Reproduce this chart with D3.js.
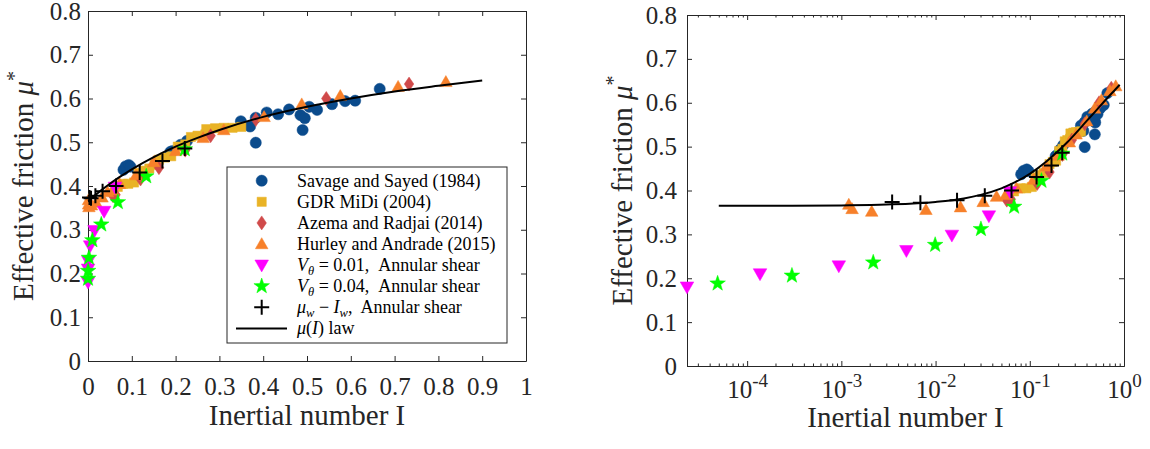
<!DOCTYPE html>
<html>
<head>
<meta charset="utf-8">
<script src="https://cdn.jsdelivr.net/npm/d3@7"></script>
<style>
  body { margin: 0; background: #fff; }
  svg { display: block; }
  text { white-space: pre; }
</style>
</head>
<body>
<svg id="chart" width="1150" height="449"></svg>
<script>
// mu(I) law curve
const lawI = [5e-5, 1e-4, 3e-4, 1e-3, 3e-3, 0.01, 0.02, 0.03, 0.05, 0.07, 0.1, 0.15, 0.2, 0.25, 0.3, 0.4, 0.5, 0.6, 0.7, 0.8, 0.9];
const lawMu = [0.365, 0.365, 0.365, 0.366, 0.368, 0.374, 0.382, 0.390, 0.405, 0.419, 0.438, 0.466, 0.490, 0.510, 0.528, 0.558, 0.581, 0.600, 0.616, 0.629, 0.641];

// Savage and Sayed (1984)
const savageI = [0.081, 0.086, 0.093, 0.097, 0.188, 0.193, 0.211, 0.226, 0.349, 0.37, 0.383, 0.383, 0.408, 0.434, 0.459, 0.485, 0.495, 0.49, 0.505, 0.523, 0.557, 0.587, 0.61, 0.666];
const savageMu = [0.437, 0.445, 0.448, 0.444, 0.478, 0.48, 0.494, 0.503, 0.548, 0.536, 0.499, 0.556, 0.568, 0.564, 0.575, 0.562, 0.555, 0.528, 0.581, 0.574, 0.587, 0.594, 0.595, 0.622];

// GDR MiDi (2004)
const gdrI = [0.068, 0.08, 0.092, 0.105, 0.115, 0.128, 0.14, 0.152, 0.162, 0.175, 0.19, 0.205, 0.222, 0.235, 0.25, 0.268, 0.27, 0.29, 0.31, 0.33, 0.35];
const gdrMu = [0.398, 0.405, 0.405, 0.408, 0.43, 0.435, 0.44, 0.448, 0.46, 0.465, 0.468, 0.49, 0.495, 0.512, 0.515, 0.518, 0.53, 0.532, 0.533, 0.533, 0.535];

// Azema and Radjai (2014)
const azemaI = [0.057, 0.063, 0.12, 0.162, 0.222, 0.28, 0.383, 0.544, 0.733];
const azemaMu = [0.378, 0.38, 0.416, 0.442, 0.482, 0.515, 0.552, 0.6, 0.633];

// Hurley and Andrade (2015)
const hurleyI = [1.2e-3, 1.3e-3, 2.1e-3, 7.9e-3, 0.0184, 0.032, 0.0444, 0.0557, 0.072, 0.11, 0.15, 0.2, 0.263, 0.31, 0.402, 0.488, 0.576, 0.708, 0.817];
const hurleyMu = [0.368, 0.358, 0.352, 0.356, 0.362, 0.374, 0.386, 0.39, 0.405, 0.425, 0.455, 0.48, 0.51, 0.528, 0.558, 0.587, 0.606, 0.627, 0.638];

// V_theta = 0.01, annular shear
const v01I = [2.3e-5, 1.37e-4, 9.4e-4, 4.9e-3, 0.0149, 0.0368, 0.0615];
const v01Mu = [0.18, 0.21, 0.228, 0.263, 0.298, 0.342, 0.397];

// V_theta = 0.04, annular shear
const v04I = [4.86e-5, 2.99e-4, 2.18e-3, 9.9e-3, 0.0303, 0.0682, 0.133, 0.221];
const v04Mu = [0.188, 0.206, 0.236, 0.276, 0.312, 0.363, 0.422, 0.484];

// mu_w - I_w, annular shear
const wallI = [3.46e-3, 6.9e-3, 0.0169, 0.0333, 0.064, 0.118, 0.17, 0.221];
const wallMu = [0.374, 0.372, 0.378, 0.388, 0.4, 0.431, 0.457, 0.486];

// ticks
const muTicks = [0, 0.1, 0.2, 0.3, 0.4, 0.5, 0.6, 0.7, 0.8];
const muTickLabels = ["0", "0.1", "0.2", "0.3", "0.4", "0.5", "0.6", "0.7", "0.8"];
const linTicks = [0, 0.1, 0.2, 0.3, 0.4, 0.5, 0.6, 0.7, 0.8, 0.9, 1];
const linTickLabels = ["0", "0.1", "0.2", "0.3", "0.4", "0.5", "0.6", "0.7", "0.8", "0.9", "1"];
const logTicks = [1e-4, 1e-3, 1e-2, 1e-1, 1];
const logTickExp = ["-4", "-3", "-2", "-1", "0"];

const FONT = '"Liberation Serif", "Times New Roman", serif';
const AX = "#262626";

const svg = d3.select("#chart");

const xL = d3.scaleLinear().domain([0, 1]).range([88, 526]);
const yL = d3.scaleLinear().domain([0, 0.8]).range([361, 11]);
const xR = d3.scaleLog().domain([2.3e-5, 1]).range([687, 1124]);
const yR = d3.scaleLinear().domain([0, 0.8]).range([366, 15]);

// marker shapes, size = half width in px
const circleT = { draw(c, r) { c.moveTo(r, 0); c.arc(0, 0, r, 0, 2 * Math.PI); } };
const squareT = { draw(c, r) { c.rect(-r, -r, 2 * r, 2 * r); } };
const diamondT = { draw(c, r) {
	c.moveTo(0, -r * 1.25); c.lineTo(r * 0.85, 0); c.lineTo(0, r * 1.25); c.lineTo(-r * 0.85, 0); c.closePath();
} };
const triUpT = { draw(c, r) { c.moveTo(0, -r); c.lineTo(r, r * 0.75); c.lineTo(-r, r * 0.75); c.closePath(); } };
const triDownT = { draw(c, r) { c.moveTo(0, r); c.lineTo(r, -r * 0.75); c.lineTo(-r, -r * 0.75); c.closePath(); } };
const starT = { draw(c, r) {
	for (let k = 0; k < 10; k++) {
		const rad = k % 2 === 0 ? r : r * 0.4;
		const a = -Math.PI / 2 + k * Math.PI / 5;
		if (k === 0) c.moveTo(rad * Math.cos(a), rad * Math.sin(a));
		else c.lineTo(rad * Math.cos(a), rad * Math.sin(a));
	}
	c.closePath();
} };
const plusT = { draw(c, r) { c.moveTo(-r, 0); c.lineTo(r, 0); c.moveTo(0, -r); c.lineTo(0, r); } };

const series = [
	{ I: savageI, mu: savageMu, type: circleT, size: 5.6, fill: "#0a4b8c", label: "Savage and Sayed (1984)" },
	{ I: gdrI, mu: gdrMu, type: squareT, size: 4.6, fill: "#e9b326", label: "GDR MiDi (2004)" },
	{ I: azemaI, mu: azemaMu, type: diamondT, size: 5.6, fill: "#d04a4a", label: "Azema and Radjai (2014)" },
	{ I: hurleyI, mu: hurleyMu, type: triUpT, size: 6.3, fill: "#f7802a", label: "Hurley and Andrade (2015)" },
	{ I: v01I, mu: v01Mu, type: triDownT, size: 6.8, fill: "#ff00ff", label: "v01" },
	{ I: v04I, mu: v04Mu, type: starT, size: 8.2, fill: "#00ff00", label: "v04" },
	{ I: wallI, mu: wallMu, type: plusT, size: 7.5, stroke: "#000", label: "wall" },
];

function drawFrame(x, y, opts) {
	const [x0, x1] = x.range();
	const [y0, y1] = y.range();
	const g = svg.append("g").attr("font-family", FONT);

	const bottom = g.append("g")
		.attr("transform", `translate(0,${y0})`)
		.call(d3.axisBottom(x).tickValues(opts.xTicks).tickSizeInner(-5).tickSizeOuter(0)
			.tickFormat((d, i) => opts.xLabels ? opts.xLabels[i] : ""));
	bottom.selectAll("text").attr("y", opts.labelY).attr("dy", null);

	if (opts.xMinor) {
		g.append("g")
			.attr("transform", `translate(0,${y0})`)
			.call(d3.axisBottom(x).tickValues(opts.xMinor).tickSizeInner(-2.5).tickSizeOuter(0).tickFormat(""));
		g.append("g")
			.attr("transform", `translate(0,${y1})`)
			.call(d3.axisTop(x).tickValues(opts.xMinor).tickSizeInner(-2.5).tickSizeOuter(0).tickFormat(""));
	}

	g.append("g")
		.attr("transform", `translate(0,${y1})`)
		.call(d3.axisTop(x).tickValues(opts.xTicks).tickSizeInner(-5).tickSizeOuter(0).tickFormat(""));

	g.append("g")
		.attr("transform", `translate(${x0},0)`)
		.call(d3.axisLeft(y).tickValues(muTicks).tickSizeInner(-5).tickSizeOuter(0).tickPadding(opts.yPad)
			.tickFormat((d, i) => muTickLabels[i]));

	g.append("g")
		.attr("transform", `translate(${x1},0)`)
		.call(d3.axisRight(y).tickValues(muTicks).tickSizeInner(-5).tickSizeOuter(0).tickFormat(""));

	g.selectAll("path.domain").attr("stroke", AX).attr("stroke-width", 1);
	g.selectAll(".tick line").attr("stroke", AX).attr("stroke-width", 1);
	g.selectAll("g").attr("font-family", FONT).attr("font-size", 25);
	g.selectAll("text").attr("fill", AX);
	return bottom;
}

function yTitle(cx, cy) {
	const t = svg.append("text")
		.attr("transform", `translate(${cx},${cy}) rotate(-90)`)
		.attr("text-anchor", "middle")
		.attr("font-family", FONT)
		.attr("font-size", 29)
		.attr("fill", AX);
	t.append("tspan").text("Effective friction ");
	t.append("tspan").attr("font-style", "italic").text("μ");
	t.append("tspan").attr("dy", -12).attr("font-size", 20).text("*");
}

function xTitle(cx, by) {
	svg.append("text")
		.attr("x", cx).attr("y", by)
		.attr("text-anchor", "middle")
		.attr("font-family", FONT)
		.attr("font-size", 29)
		.attr("fill", AX)
		.text("Inertial number I");
}

function drawData(x, y) {
	const g = svg.append("g");
	series.forEach((s) => {
		const sym = d3.symbol().type(s.type).size(s.size);
		g.append("g")
			.selectAll("path")
			.data(s.I.map((v, i) => [v, s.mu[i]]))
			.join("path")
			.attr("transform", (d) => `translate(${x(d[0])},${y(d[1])})`)
			.attr("d", sym)
			.attr("fill", s.fill || "none")
			.attr("stroke", s.stroke || s.fill)
			.attr("stroke-width", s.stroke ? 2 : 0.5);
	});
	const line = d3.line()
		.x((d) => x(d[0]))
		.y((d) => y(d[1]))
		.curve(d3.curveMonotoneX);
	g.append("path")
		.datum(lawI.map((v, i) => [v, lawMu[i]]))
		.attr("d", line)
		.attr("fill", "none")
		.attr("stroke", "#000")
		.attr("stroke-width", 2);
}

// ---------- left panel ----------
drawFrame(xL, yL, { xTicks: linTicks, xLabels: linTickLabels, labelY: 34, yPad: 7 });
drawData(xL, yL);
yTitle(33, 186);
xTitle(307, 425);

// ---------- right panel ----------
const minor = [];
for (let e = -5; e < 0; e++) {
	for (let m = 2; m <= 9; m++) {
		const v = m * Math.pow(10, e);
		if (v >= 2.3e-5 && v < 1) minor.push(v);
	}
}
const rb = drawFrame(xR, yR, { xTicks: logTicks, xLabels: logTickExp, xMinor: minor, labelY: 32, yPad: 10 });
rb.selectAll(".tick text").each(function (d, i) {
	const t = d3.select(this);
	t.text(null);
	t.append("tspan").text("10");
	t.append("tspan").attr("dy", -11).attr("font-size", 19).text(logTickExp[i]);
});
drawData(xR, yR);
yTitle(632, 190.5);
xTitle(905.5, 427);

// ---------- legend ----------
const lg = svg.append("g").attr("font-family", FONT).attr("font-size", 18).attr("fill", "#000");
lg.append("rect")
	.attr("x", 227).attr("y", 167).attr("width", 280).attr("height", 176)
	.attr("fill", "#fff").attr("stroke", AX).attr("stroke-width", 1);

const rowY = (i) => 180.7 + i * 21.1;
const mx = 261.7;
const tx = 297;

series.forEach((s, i) => {
	lg.append("path")
		.attr("transform", `translate(${mx},${rowY(i)})`)
		.attr("d", d3.symbol().type(s.type).size(s.size)())
		.attr("fill", s.fill || "none")
		.attr("stroke", s.stroke || s.fill)
		.attr("stroke-width", s.stroke ? 2 : 0.5);
	const t = lg.append("text").attr("x", tx).attr("y", rowY(i) + 6);
	if (s.label === "v01" || s.label === "v04") {
		t.append("tspan").attr("font-style", "italic").text("V");
		t.append("tspan").attr("font-style", "italic").attr("font-size", 12.5).attr("dy", 4).text("θ");
		t.append("tspan").attr("dy", -4).text(s.label === "v01" ? " = 0.01,  Annular shear" : " = 0.04,  Annular shear");
	} else if (s.label === "wall") {
		t.append("tspan").attr("font-style", "italic").text("μ");
		t.append("tspan").attr("font-style", "italic").attr("font-size", 12.5).attr("dy", 4).text("w");
		t.append("tspan").attr("dy", -4).text(" − ");
		t.append("tspan").attr("font-style", "italic").text("I");
		t.append("tspan").attr("font-style", "italic").attr("font-size", 12.5).attr("dy", 4).text("w");
		t.append("tspan").attr("dy", -4).text(",  Annular shear");
	} else {
		t.text(s.label);
	}
});

lg.append("line")
	.attr("x1", 236).attr("x2", 287)
	.attr("y1", rowY(7)).attr("y2", rowY(7))
	.attr("stroke", "#000").attr("stroke-width", 2);
const lt = lg.append("text").attr("x", tx).attr("y", rowY(7) + 6);
lt.append("tspan").attr("font-style", "italic").text("μ");
lt.append("tspan").text("(");
lt.append("tspan").attr("font-style", "italic").text("I");
lt.append("tspan").text(") law");
</script>
</body>
</html>
